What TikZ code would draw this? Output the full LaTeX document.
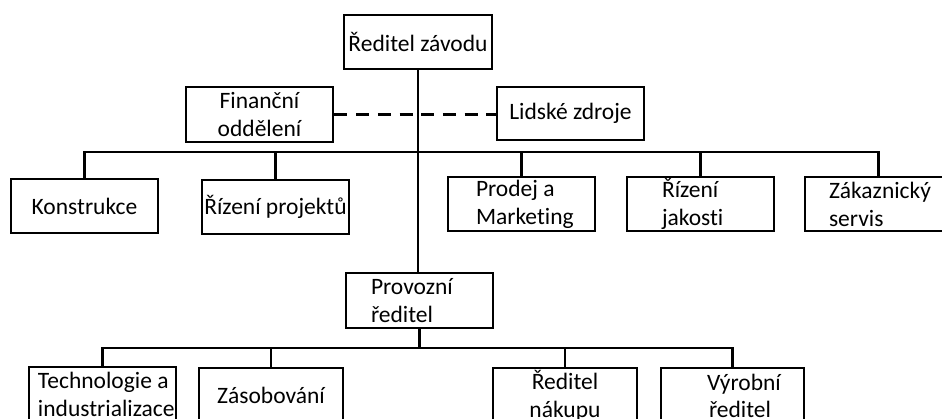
\documentclass[tikz,border=0pt]{standalone}
\usepackage{fontspec}
\setmainfont{Carlito}[Ligatures=NoCommon]
\newcommand\ind[1]{\hspace*{#1}}
\begin{document}
\begin{tikzpicture}[x=1pt,y=-1pt,
  box/.style={draw=black, line width=2.8pt, fill=white, inner ysep=0pt,
    minimum height=54pt, font=\fontsize{23.5}{28}\selectfont},
  cbox/.style={box, align=center, inner xsep=0pt, minimum width=#1},
  lbox/.style={box, align=flush left, inner xsep=0pt, text width=#1, minimum width=#1},
  conn/.style={line width=2.4pt},
  dashline/.style={line width=2.8pt, dash pattern=on 13pt off 8.7pt}]
\useasboundingbox (0,0) rectangle (942,418);
\clip (0,0) rectangle (942,418);
\fill[white] (0,0) rectangle (942,418);

\coordinate (b1) at (418,152);
\coordinate (b2) at (420,348);

% boxes
\node[cbox=148pt] (dir) at (418,42) {Ředitel závodu};
\node[cbox=147pt, minimum height=55pt] (fin) at (259.5,114.5) {Finanční\\oddělení};
\node[cbox=147pt, minimum height=53pt] (lid) at (570.5,113.5) {Lidské zdroje};

\node[cbox=147pt] (kon) at (84.5,206) {Konstrukce};
\node[cbox=147pt] (rpr) at (275.5,207) {Řízení projektů};
\node[lbox=147pt] (pro) at (521.5,204) {\ind{28pt}Prodej a\\\ind{28pt}Marketing};
\node[lbox=147pt] (rja) at (700.5,204) {\ind{35pt}Řízení\\\ind{35pt}jakosti};
\node[lbox=147pt] (zak) at (878.5,204) {\ind{24pt}Zákaznický\\\ind{24pt}servis};

\node[lbox=147pt, minimum height=55pt] (prv) at (419.5,300.5) {\ind{25pt}Provozní\\\ind{25pt}ředitel};

\node[lbox=147pt, minimum height=55pt] (tec) at (102.5,394.5) {\ind{9pt}Technologie a\\\ind{9pt}industrializace};
\node[cbox=144pt, minimum height=55pt] (zas) at (271,395.5) {Zásobování};
\node[cbox=144pt, minimum height=55pt] (rna) at (565,395.5) {Ředitel\\nákupu};
\node[lbox=143pt, minimum height=55pt] (vyr) at (732.5,395.5) {\ind{46pt}Výrobní\\[-1pt]\ind{48pt}ředitel};

% lines
\draw[conn] (dir.south) -- (dir.south |- prv.north);
\draw[dashline] (fin.east) -- (fin.east -| lid.west);
\draw[conn] (kon.north) |- (b1) -| (zak.north);
\draw[conn] (rpr.north) -- (rpr.north |- b1);
\draw[conn] (pro.north) -- (pro.north |- b1);
\draw[conn] (rja.north) -- (rja.north |- b1);
\draw[conn] (prv.south) -- (prv.south |- b2);
\draw[conn] (tec.north) |- (b2) -| (vyr.north);
\draw[conn] (zas.north) -- (zas.north |- b2);
\draw[conn] (rna.north) -- (rna.north |- b2);
\end{tikzpicture}
\end{document}
